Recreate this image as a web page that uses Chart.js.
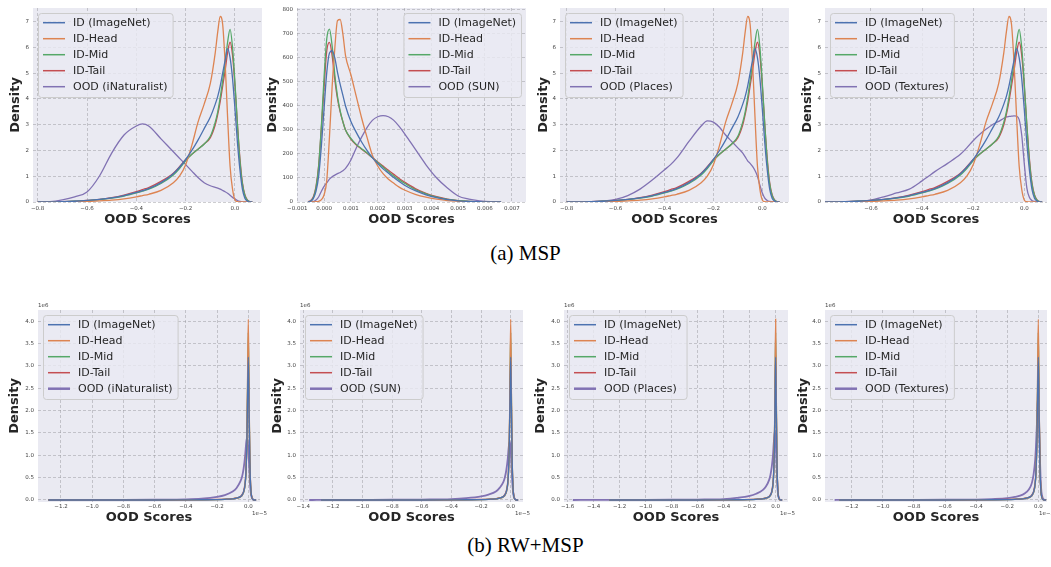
<!DOCTYPE html>
<html>
<head>
<meta charset="utf-8">
<script src="https://cdn.jsdelivr.net/npm/chart.js@4"></script>
<style>
  body { margin: 0; background: #fff; width: 1051px; height: 567px; position: relative; overflow: hidden; }
  canvas.panel { position: absolute; }
  .cap { position: absolute; left: 0; width: 1051px; text-align: center; font-family: "Liberation Serif", serif; font-size: 21px; color: #000; line-height: 24px; }
</style>
</head>
<body>
<div class="cap" style="top:241px">(a) MSP</div>
<div class="cap" style="top:533px">(b) RW+MSP</div>
<script>
// ---- data ----
const ID_LABELS = ['ID (ImageNet)', 'ID-Head', 'ID-Mid', 'ID-Tail'];
const OOD_LABELS = ['OOD (iNaturalist)', 'OOD (SUN)', 'OOD (Places)', 'OOD (Textures)'];
const COLORS = ['#4c72b0', '#dd8452', '#55a868', '#c44e52', '#8172b3'];

// MSP scores
const MSP_X = [-0.8, -0.75, -0.7, -0.65, -0.6, -0.55, -0.5, -0.45, -0.4, -0.375, -0.35, -0.3, -0.25, -0.225, -0.2, -0.175, -0.15, -0.125, -0.1, -0.08, -0.07, -0.06, -0.05, -0.04, -0.03, -0.02, -0.01, 0, 0.01, 0.02, 0.03, 0.04, 0.05, 0.06, 0.07];
const MSP_ID_ALL = [0, 0, 0.01, 0.03, 0.06, 0.1, 0.16, 0.25, 0.37, 0.44, 0.52, 0.75, 1.1, 1.35, 1.65, 2.0, 2.4, 2.85, 3.3, 3.8, 4.1, 4.5, 5.0, 5.5, 5.95, 5.6, 4.8, 3.6, 2.3, 1.25, 0.5, 0.15, 0.04, 0, 0];
const MSP_ID_HEAD = [0, 0, 0, 0.01, 0.02, 0.04, 0.07, 0.12, 0.2, 0.25, 0.3, 0.45, 0.75, 1.0, 1.45, 2.2, 3.1, 3.8, 4.6, 5.8, 6.6, 7.2, 6.9, 5.4, 3.3, 1.4, 0.5, 0.08, 0.01, 0, 0, 0, 0, 0, 0];
const MSP_ID_MID = [0, 0, 0.01, 0.03, 0.05, 0.09, 0.15, 0.23, 0.35, 0.42, 0.5, 0.72, 1.05, 1.3, 1.6, 1.85, 2.05, 2.25, 2.55, 3.1, 3.5, 4.05, 4.7, 5.4, 6.2, 6.7, 6.0, 4.6, 3.0, 1.6, 0.7, 0.25, 0.07, 0.01, 0];
const MSP_ID_TAIL = [0, 0, 0.01, 0.03, 0.06, 0.1, 0.17, 0.27, 0.4, 0.48, 0.56, 0.8, 1.12, 1.37, 1.65, 1.85, 2.05, 2.25, 2.5, 3.0, 3.4, 3.9, 4.5, 5.1, 5.8, 6.2, 5.7, 4.5, 3.0, 1.7, 0.75, 0.28, 0.08, 0.01, 0];
const MSP_OOD_INAT = [0, 0.01, 0.08, 0.2, 0.39, 1.0, 1.9, 2.6, 2.95, 3.03, 2.95, 2.45, 1.95, 1.7, 1.45, 1.2, 0.95, 0.75, 0.63, 0.57, 0.54, 0.5, 0.45, 0.4, 0.34, 0.26, 0.18, 0.12, 0.06, 0.02, 0, 0, 0, 0, 0];
const MSP_OOD_PLACES = [0, 0, 0.01, 0.04, 0.1, 0.25, 0.5, 0.85, 1.25, 1.45, 1.7, 2.35, 2.95, 3.15, 3.1, 2.9, 2.6, 2.35, 2.1, 1.9, 1.75, 1.6, 1.5, 1.38, 1.22, 1.0, 0.65, 0.35, 0.15, 0.06, 0.02, 0, 0, 0, 0];
const MSP_OOD_TEXTURES = [0, 0, 0.01, 0.03, 0.07, 0.2, 0.35, 0.5, 0.82, 1.0, 1.18, 1.5, 1.85, 2.1, 2.38, 2.62, 2.82, 3.0, 3.13, 3.25, 3.3, 3.32, 3.33, 3.34, 3.33, 3.2, 2.6, 1.5, 0.55, 0.18, 0.06, 0.02, 0, 0, 0];

// MSP vs SUN panel (different score range)
const SUN_X = [-0.0006, -0.0005, -0.0004, -0.0003, -0.0002, -0.0001, 0, 0.0001, 0.0002, 0.0003, 0.0004, 0.0005, 0.0006, 0.0007, 0.0008, 0.001, 0.0012, 0.0014, 0.0016, 0.0018, 0.002, 0.0022, 0.0024, 0.0026, 0.0028, 0.003, 0.0034, 0.0038, 0.0042, 0.0046, 0.005, 0.0054, 0.0058, 0.0062, 0.0066];
const SUN_ID_ALL = [0, 3, 15, 45, 110, 235, 390, 540, 620, 630, 600, 540, 490, 445, 400, 335, 290, 250, 215, 185, 160, 138, 120, 102, 85, 70, 47, 30, 18, 10, 5, 2, 1, 0, 0];
const SUN_ID_HEAD = [0, 0, 0, 1, 3, 10, 30, 90, 270, 480, 640, 755, 760, 700, 610, 530, 440, 350, 270, 195, 150, 118, 95, 78, 62, 50, 32, 20, 12, 6, 3, 1, 0, 0, 0];
const SUN_ID_MID = [0, 4, 18, 60, 150, 320, 520, 680, 720, 650, 530, 440, 380, 335, 300, 265, 240, 222, 205, 185, 165, 145, 126, 108, 92, 78, 52, 34, 20, 11, 6, 3, 1, 0, 0];
const SUN_ID_TAIL = [1, 6, 22, 65, 155, 310, 480, 630, 665, 610, 510, 430, 375, 335, 300, 262, 238, 220, 203, 185, 167, 150, 132, 115, 98, 83, 56, 36, 22, 12, 6, 3, 1, 0, 0];
const SUN_OOD = [0, 0, 2, 8, 22, 45, 65, 80, 95, 105, 112, 118, 123, 130, 140, 175, 225, 270, 310, 340, 355, 360, 355, 340, 315, 285, 220, 155, 100, 58, 25, 12, 5, 1, 0];

// RW+MSP scores (x in units of 1e-5, density in units of 1e6)
const RW_X = [-1.56, -1.36, -1.31, -1.28, -1.0, -0.8, -0.6, -0.4, -0.3, -0.2, -0.15, -0.1, -0.075, -0.05, -0.04, -0.03, -0.02, -0.015, -0.01, -0.005, 0, 0.005, 0.01, 0.015, 0.02, 0.03, 0.04, 0.05];
const RW_ID_ALL = [null, null, null, 0, 0, 0, 0, 0.003, 0.005, 0.01, 0.016, 0.027, 0.043, 0.075, 0.11, 0.18, 0.37, 0.62, 1.15, 2.2, 3.2, 2.0, 0.85, 0.3, 0.1, 0.012, 0, 0];
const RW_ID_HEAD = [null, null, null, 0, 0, 0, 0, 0.003, 0.005, 0.01, 0.015, 0.025, 0.04, 0.07, 0.1, 0.17, 0.35, 0.6, 1.2, 2.6, 4.05, 2.4, 0.9, 0.3, 0.1, 0.01, 0, 0];
const RW_ID_MID = [null, null, null, 0, 0, 0, 0, 0.003, 0.005, 0.01, 0.015, 0.025, 0.04, 0.07, 0.1, 0.17, 0.35, 0.6, 1.15, 2.45, 3.75, 2.3, 0.88, 0.3, 0.1, 0.01, 0, 0];
const RW_ID_TAIL = [null, null, null, 0, 0, 0, 0, 0.003, 0.006, 0.012, 0.018, 0.03, 0.045, 0.08, 0.12, 0.2, 0.4, 0.65, 1.2, 2.3, 3.25, 2.1, 0.9, 0.33, 0.12, 0.015, 0, 0];
const RW_OOD_INAT = [null, null, null, 0, 0.002, 0.004, 0.008, 0.015, 0.03, 0.07, 0.11, 0.19, 0.27, 0.42, 0.52, 0.7, 1.0, 1.22, 1.38, 1.35, 1.15, 0.8, 0.45, 0.2, 0.08, 0.01, 0, 0];
const RW_OOD_SUN = [null, 0, 0.0005, 0.001, 0.003, 0.005, 0.01, 0.02, 0.04, 0.08, 0.12, 0.19, 0.27, 0.4, 0.5, 0.66, 0.92, 1.12, 1.27, 1.3, 1.12, 0.8, 0.45, 0.22, 0.09, 0.015, 0, 0];
const RW_OOD_PLACES = [0, 0.001, 0.001, 0.001, 0.003, 0.006, 0.01, 0.02, 0.045, 0.09, 0.14, 0.22, 0.3, 0.45, 0.56, 0.74, 1.02, 1.25, 1.45, 1.55, 1.35, 0.95, 0.55, 0.25, 0.1, 0.015, 0, 0];
const RW_OOD_TEXTURES = [null, null, 0, 0.001, 0.002, 0.003, 0.005, 0.01, 0.02, 0.04, 0.07, 0.12, 0.18, 0.3, 0.4, 0.58, 0.9, 1.2, 1.6, 2.1, 2.3, 1.8, 1.0, 0.45, 0.18, 0.03, 0.005, 0];

// ---- helpers ----
const minus = s => s.replace('-', '\u2212');
const fmt1 = v => Math.abs(v) < 1e-9 ? '0.0' : minus(v.toFixed(1));
const fmt3 = v => Math.abs(v) < 1e-12 ? '0.000' : minus(v.toFixed(3));
const fmt0 = v => String(Math.round(v));
const series = (xs, ys) => xs.map((x, i) => ({ x: x, y: ys[i] }));

const plotBg = {
  id: 'plotBg',
  beforeDraw(chart) {
    const { ctx, chartArea: a } = chart;
    ctx.save();
    ctx.fillStyle = '#eaeaf2';
    ctx.fillRect(a.left, a.top, a.width, a.height);
    ctx.restore();
  }
};

const boxLegend = {
  id: 'boxLegend',
  afterDatasetsDraw(chart, args, opts) {
    const { ctx, chartArea: a } = chart;
    const items = chart.data.datasets;
    ctx.save();
    ctx.font = '11px "DejaVu Sans"';
    const maxW = Math.max(...items.map(d => ctx.measureText(d.label).width));
    const w = 35 + maxW + 5, h = 84;
    const x = opts.align === 'right' ? a.right - 5 - w : a.left + 5;
    const y = a.top + 5;
    ctx.beginPath();
    ctx.roundRect(x + 0.5, y + 0.5, w, h, 3);
    ctx.fillStyle = 'rgba(234,234,242,0.8)';
    ctx.fill();
    ctx.strokeStyle = '#cccccc';
    ctx.lineWidth = 1;
    ctx.stroke();
    items.forEach((d, i) => {
      const cy = y + 9.7 + i * 16;
      ctx.strokeStyle = d.borderColor;
      ctx.lineWidth = d.borderWidth > 1.5 ? 2.5 : 1.5;
      ctx.beginPath();
      ctx.moveTo(x + 5, cy);
      ctx.lineTo(x + 27, cy);
      ctx.stroke();
      ctx.fillStyle = '#262626';
      ctx.textBaseline = 'middle';
      ctx.fillText(d.label, x + 35, cy + 0.5);
    });
    ctx.restore();
  }
};

const offsetText = {
  id: 'offsetText',
  afterDraw(chart, args, opts) {
    if (!opts.y) return;
    const { ctx, chartArea: a } = chart;
    ctx.save();
    ctx.font = '5.5px "DejaVu Sans"';
    ctx.fillStyle = '#444';
    ctx.textBaseline = 'middle';
    ctx.textAlign = 'left';
    ctx.fillText(opts.y, a.left, a.top - 4);
    ctx.textAlign = 'right';
    ctx.fillText(opts.x, a.right + 7, a.bottom + 12);
    ctx.restore();
  }
};

Chart.register(plotBg, boxLegend, offsetText);

function axis(min, max, step, fmt, title, pad, fit) {
  return {
    type: 'linear',
    min: min,
    max: max,
    grid: { color: 'rgba(150,150,155,0.6)', lineWidth: 0.8, drawTicks: false },
    border: { display: false, dash: [3, 2] },
    ticks: {
      stepSize: step, includeBounds: false, autoSkip: false, maxRotation: 0,
      padding: pad, color: '#444', font: { size: 5.5, family: 'DejaVu Sans' },
      callback: v => fmt(v)
    },
    title: { display: true, text: title, padding: 0, color: '#262626', font: { size: 13, weight: 'bold', family: 'DejaVu Sans' } },
    afterBuildTicks: s => {
      const t = [];
      for (let k = Math.ceil(min / step - 1e-9); k * step <= max + 1e-12; k++) {
        t.push({ value: Math.round(k * step * 1e6) / 1e6 });
      }
      s.ticks = t;
    },
    afterFit: s => {
      fit(s);
      s.paddingLeft = 0; s.paddingRight = 0; s.paddingTop = 0; s.paddingBottom = 0;
    }
  };
}

// ---- panel layout ----
const TOP = { top: 0, padTop: 8, plotH: 194, xh: 25, tickPad: 3, oodWidth: 1.3 };
const BOT = { top: 295, padTop: 15, plotH: 192, xh: 23, tickPad: 1, oodWidth: 1.8 };

const panels = [
  { row: TOP, left: 8, yw: 25, plotW: 229, padRight: 3, xs: MSP_X, ys: [MSP_ID_ALL, MSP_ID_HEAD, MSP_ID_MID, MSP_ID_TAIL, MSP_OOD_INAT], ood: OOD_LABELS[0],
    x: [-0.819, 0.1095, 0.2, fmt1], y: [0, 7.53, 1, fmt0], legend: 'left' },
  { row: TOP, left: 265, yw: 32, plotW: 229, padRight: 3, xs: SUN_X, ys: [SUN_ID_ALL, SUN_ID_HEAD, SUN_ID_MID, SUN_ID_TAIL, SUN_OOD], ood: OOD_LABELS[1],
    x: [-0.00101, 0.00753, 0.001, fmt3], y: [0, 808, 100, fmt0], legend: 'right' },
  { row: TOP, left: 536, yw: 24, plotW: 229, padRight: 3, xs: MSP_X, ys: [MSP_ID_ALL, MSP_ID_HEAD, MSP_ID_MID, MSP_ID_TAIL, MSP_OOD_PLACES], ood: OOD_LABELS[2],
    x: [-0.827, 0.109, 0.2, fmt1], y: [0, 7.53, 1, fmt0], legend: 'left' },
  { row: TOP, left: 800, yw: 25, plotW: 222, padRight: 3, xs: MSP_X, ys: [MSP_ID_ALL, MSP_ID_HEAD, MSP_ID_MID, MSP_ID_TAIL, MSP_OOD_TEXTURES], ood: OOD_LABELS[3],
    x: [-0.78, 0.089, 0.2, fmt1], y: [0, 7.53, 1, fmt0], legend: 'left' },
  { row: BOT, left: 7, yw: 31, plotW: 222, padRight: 10, xs: RW_X, ys: [RW_ID_ALL, RW_ID_HEAD, RW_ID_MID, RW_ID_TAIL, RW_OOD_INAT], ood: OOD_LABELS[0],
    x: [-1.347, 0.075, 0.2, fmt1], y: [-0.045, 4.253, 0.5, fmt1], legend: 'left', sci: true },
  { row: BOT, left: 270, yw: 30, plotW: 223, padRight: 10, xs: RW_X, ys: [RW_ID_ALL, RW_ID_HEAD, RW_ID_MID, RW_ID_TAIL, RW_OOD_SUN], ood: OOD_LABELS[1],
    x: [-1.422, 0.083, 0.2, fmt1], y: [-0.045, 4.253, 0.5, fmt1], legend: 'left', sci: true },
  { row: BOT, left: 533, yw: 31, plotW: 224, padRight: 10, xs: RW_X, ys: [RW_ID_ALL, RW_ID_HEAD, RW_ID_MID, RW_ID_TAIL, RW_OOD_PLACES], ood: OOD_LABELS[2],
    x: [-1.628, 0.095, 0.2, fmt1], y: [-0.045, 4.253, 0.5, fmt1], legend: 'left', sci: true },
  { row: BOT, left: 796, yw: 29, plotW: 222, padRight: 4, xs: RW_X, ys: [RW_ID_ALL, RW_ID_HEAD, RW_ID_MID, RW_ID_TAIL, RW_OOD_TEXTURES], ood: OOD_LABELS[3],
    x: [-1.372, 0.056, 0.2, fmt1], y: [-0.045, 4.253, 0.5, fmt1], legend: 'left', sci: true }
];

panels.forEach(p => {
  const r = p.row;
  const cv = document.createElement('canvas');
  cv.className = 'panel';
  cv.width = p.yw + p.plotW + p.padRight;
  cv.height = r.padTop + r.plotH + r.xh;
  cv.style.left = p.left + 'px';
  cv.style.top = r.top + 'px';
  document.body.appendChild(cv);

  const labels = ID_LABELS.concat([p.ood]);
  new Chart(cv, {
    type: 'line',
    data: {
      datasets: p.ys.map((ys, i) => ({
        label: labels[i],
        data: series(p.xs, ys),
        borderColor: COLORS[i],
        borderWidth: i === 4 ? r.oodWidth : 1.3,
        pointRadius: 0,
        fill: false,
        cubicInterpolationMode: 'monotone'
      }))
    },
    options: {
      responsive: false,
      animation: false,
      devicePixelRatio: 1,
      layout: { padding: { left: 0, top: r.padTop, right: p.padRight, bottom: 0 } },
      scales: {
        x: axis(p.x[0], p.x[1], p.x[2], p.x[3], 'OOD Scores', r.tickPad, s => { s.height = r.xh; }),
        y: axis(p.y[0], p.y[1], p.y[2], p.y[3], 'Density', 4, s => { s.width = p.yw; })
      },
      plugins: {
        legend: { display: false },
        tooltip: { enabled: false },
        boxLegend: { align: p.legend },
        offsetText: p.sci ? { y: '1e6', x: '1e\u22125' } : {}
      }
    }
  });
});
</script>
</body>
</html>
